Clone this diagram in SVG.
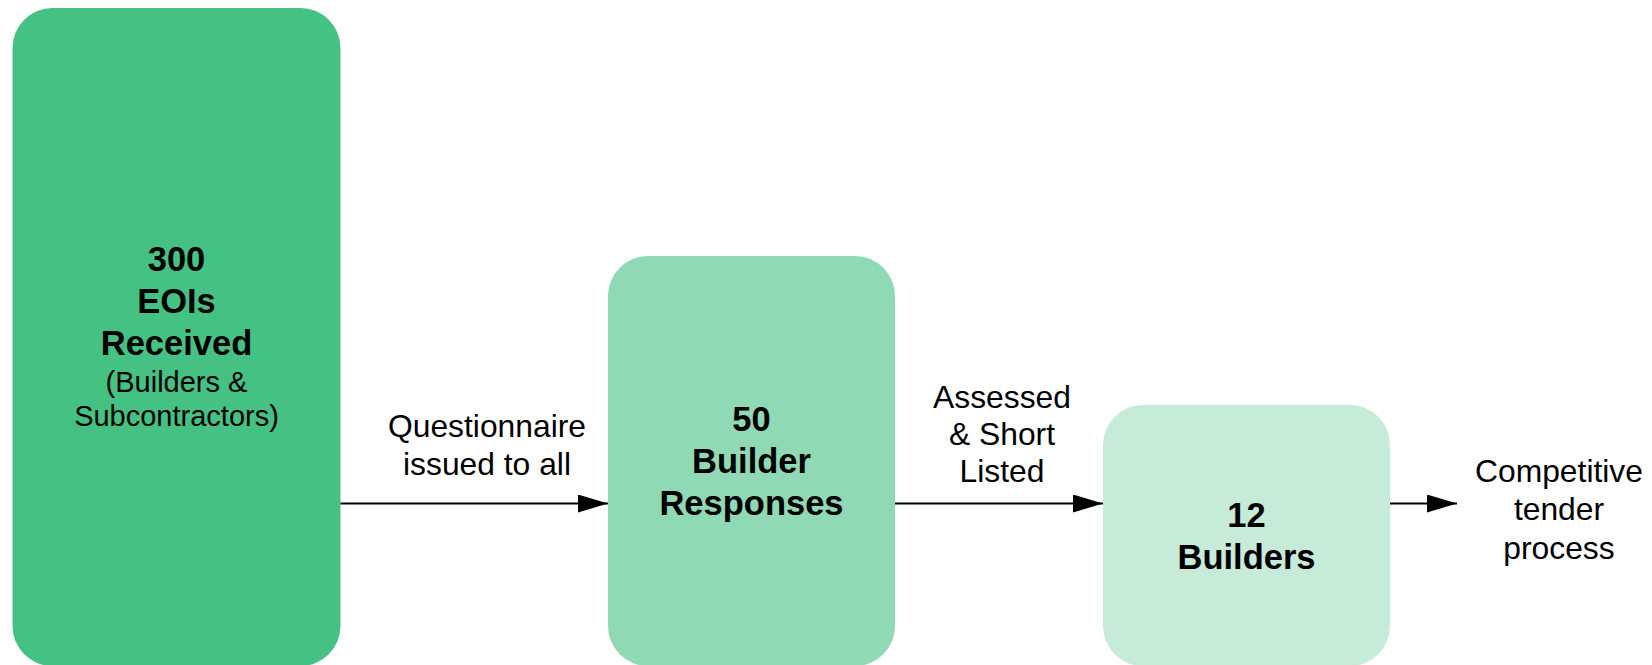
<svg xmlns="http://www.w3.org/2000/svg" width="1652" height="665" viewBox="0 0 1652 665">
<defs>
<style>
.b{font-family:"Liberation Sans",Arial,sans-serif;font-weight:bold;font-size:34.5px;fill:#000;text-anchor:middle}
.n{font-family:"Liberation Sans",Arial,sans-serif;font-size:29px;fill:#000;text-anchor:middle}
.l{font-family:"Liberation Sans",Arial,sans-serif;font-size:31.8px;fill:#000;text-anchor:middle}
.c{stroke:#000;stroke-width:2;fill:none}
</style>
<marker id="ah" viewBox="0 0 30 18" refX="30" refY="9" markerWidth="30" markerHeight="18" markerUnits="userSpaceOnUse" orient="auto">
<path d="M0,0 L30,9 L0,18 Z" fill="#000"/>
</marker>
</defs>
<rect width="1652" height="665" fill="#fff"/>
<g id="n1">
<rect x="12.5" y="8" width="328" height="658" rx="40" fill="#45C184"/>
<text class="b" x="176.5" y="271">300</text>
<text class="b" x="176.5" y="313">EOIs</text>
<text class="b" x="176.5" y="355">Received</text>
<text class="n" x="176.5" y="392">(Builders &amp;</text>
<text class="n" x="176.5" y="426">Subcontractors)</text>
</g>
<g id="n2">
<rect x="608" y="256" width="287" height="410" rx="40" fill="#8FD9B4"/>
<text class="b" x="751.5" y="431">50</text>
<text class="b" x="751.5" y="473">Builder</text>
<text class="b" x="751.5" y="515">Responses</text>
</g>
<g id="n3">
<rect x="1103" y="405" width="287" height="261" rx="40" fill="#C6EBD9"/>
<text class="b" x="1246.5" y="527">12</text>
<text class="b" x="1246.5" y="569">Builders</text>
</g>
<g id="connectors">
<line class="c" x1="340.5" y1="503.5" x2="608" y2="503.5" marker-end="url(#ah)"/>
<line class="c" x1="895" y1="503.5" x2="1103" y2="503.5" marker-end="url(#ah)"/>
<line class="c" x1="1390" y1="503.5" x2="1457" y2="503.5" marker-end="url(#ah)"/>
<text class="l" x="487" y="437">Questionnaire</text>
<text class="l" x="487" y="474.5">issued to all</text>
<text class="l" x="1002" y="407.5">Assessed</text>
<text class="l" x="1002" y="444.5">&amp; Short</text>
<text class="l" x="1002" y="481.5">Listed</text>
<text class="l" x="1559" y="481.5">Competitive</text>
<text class="l" x="1559" y="520">tender</text>
<text class="l" x="1559" y="558.5">process</text>
</g>
</svg>
